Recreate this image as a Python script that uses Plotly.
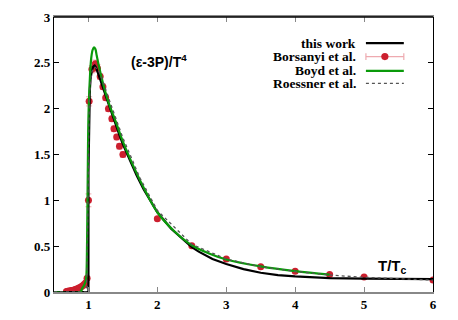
import plotly.graph_objects as go

# ---- data ----
this_work_x = [0.5, 0.7, 0.9, 0.99, 1.0, 1.0, 1.005, 1.01, 1.02, 1.03, 1.05, 1.07, 1.09, 1.11, 1.14, 1.18,
               1.22, 1.26, 1.3, 1.35, 1.4, 1.45, 1.5, 1.6, 1.7, 1.8, 1.9, 2.0, 2.2, 2.4, 2.5, 2.6, 2.8,
               3.0, 3.25, 3.5, 3.75, 4.0, 4.5, 5.0, 5.5, 6.0]
this_work_y = [0, 0, 0, 0, 0, 1.3, 1.75, 2.0, 2.2, 2.32, 2.42, 2.46, 2.47, 2.45, 2.39, 2.3,
               2.21, 2.12, 2.03, 1.92, 1.81, 1.71, 1.61, 1.43, 1.27, 1.12, 0.99, 0.87, 0.69, 0.55, 0.49, 0.44, 0.36,
               0.305, 0.25, 0.21, 0.185, 0.17, 0.152, 0.145, 0.141, 0.14]

boyd_x = [0.5, 0.88, 0.91, 0.94, 0.96, 0.97, 0.98, 0.99, 1.0, 1.02, 1.04, 1.06, 1.08, 1.1, 1.12, 1.15,
          1.2, 1.25, 1.3, 1.4, 1.5, 1.6, 1.8, 2.0, 2.25, 2.5, 2.75, 3.0, 3.5, 4.0, 4.5]
boyd_y = [0, 0, 0.04, 0.08, 0.12, 0.18, 0.55, 1.3, 1.9, 2.32, 2.55, 2.64, 2.67, 2.65, 2.58, 2.47,
          2.31, 2.17, 2.05, 1.85, 1.64, 1.46, 1.14, 0.87, 0.66, 0.51, 0.42, 0.355, 0.28, 0.228, 0.19]

roessner_x = [0.5, 0.97, 0.98, 0.99, 1.0, 1.01, 1.03, 1.05, 1.08, 1.1, 1.15, 1.2, 1.3, 1.4, 1.5, 1.75,
              2.0, 2.5, 3.0, 3.5, 4.0, 4.5, 5.0, 5.5, 6.0]
roessner_y = [0, 0, 0.3, 1.0, 1.7, 2.05, 2.3, 2.4, 2.45, 2.45, 2.41, 2.32, 2.1, 1.88, 1.68, 1.24,
              0.89, 0.52, 0.36, 0.275, 0.225, 0.185, 0.16, 0.145, 0.13]

borsanyi_x = [0.68, 0.70, 0.72, 0.74, 0.76, 0.78, 0.80, 0.82, 0.84, 0.86, 0.88, 0.90, 0.92, 0.94, 0.96, 0.98,
              1.0, 1.01, 1.05, 1.10, 1.13, 1.17, 1.21, 1.25, 1.29, 1.34, 1.37, 1.41, 1.45, 1.50,
              2.0, 2.5, 3.0, 3.5, 4.0, 4.5, 5.0, 6.0]
borsanyi_y = [0.005, 0.008, 0.01, 0.013, 0.016, 0.02, 0.025, 0.03, 0.036, 0.043, 0.05, 0.06, 0.07, 0.085, 0.1, 0.15,
              1.0, 2.08, 2.43, 2.49, 2.44, 2.35, 2.24, 2.12, 2.0, 1.89, 1.78, 1.69, 1.59, 1.50,
              0.80, 0.505, 0.36, 0.276, 0.226, 0.19, 0.164, 0.131]
borsanyi_err = [0.003, 0.003, 0.003, 0.003, 0.004, 0.004, 0.004, 0.005, 0.005, 0.005, 0.006, 0.006, 0.007, 0.008, 0.01, 0.02,
                0.07, 0.05, 0.04, 0.04, 0.04, 0.03, 0.03, 0.03, 0.03, 0.03, 0.03, 0.03, 0.03, 0.03,
                0.02, 0.015, 0.012, 0.01, 0.01, 0.01, 0.01, 0.01]

x_ticks = [1, 2, 3, 4, 5, 6]
y_ticks = [0, 0.5, 1, 1.5, 2, 2.5, 3]
y_ticklabels = ["0", "0.5", "1", "1.5", "2", "2.5", "3"]

legend_labels = ["this work", "Borsanyi et al.", "Boyd et al.", "Roessner et al."]

BLACK = "#000000"
GREEN = "#0a9a0a"
RED = "#cc1f2e"
PINK = "#eeaab0"
SERIF = "Liberation Serif"
SANS = "Liberation Sans"

fig = go.Figure()

fig.add_trace(go.Scatter(x=borsanyi_x, y=borsanyi_y, mode="markers",
                         marker=dict(color=RED, size=7),
                         error_y=dict(type="data", array=borsanyi_err, color=PINK, thickness=1, width=3),
                         showlegend=False))
fig.add_trace(go.Scatter(x=this_work_x, y=this_work_y, mode="lines",
                         line=dict(color=BLACK, width=2.2), showlegend=False))
fig.add_trace(go.Scatter(x=boyd_x, y=boyd_y, mode="lines", line_shape="spline",
                         line=dict(color=GREEN, width=2.2), showlegend=False))
fig.add_trace(go.Scatter(x=roessner_x, y=roessner_y, mode="lines",
                         line=dict(color="#555555", width=1.3, dash="dot"), showlegend=False))

# ---- custom legend (text left, sample right, like gnuplot) ----
legend_y = [0.905, 0.856, 0.804, 0.759]
x_text, x0, x1 = 0.802, 0.823, 0.923
shapes = []
annotations = []
for lab, yy in zip(legend_labels, legend_y):
    annotations.append(dict(text="<b>%s</b>" % lab, x=x_text, y=yy, xref="paper", yref="paper",
                            xanchor="right", yanchor="middle", showarrow=False,
                            font=dict(family=SERIF, size=13.5, color="black")))
shapes.append(dict(type="line", xref="paper", yref="paper", x0=x0, x1=x1, y0=legend_y[0], y1=legend_y[0],
                   line=dict(color=BLACK, width=2.2)))
shapes.append(dict(type="line", xref="paper", yref="paper", x0=x0, x1=x1, y0=legend_y[1], y1=legend_y[1],
                   line=dict(color=PINK, width=1.2)))
for xc in (x0, x1):
    shapes.append(dict(type="line", xref="paper", yref="paper", x0=xc, x1=xc,
                       y0=legend_y[1] - 0.012, y1=legend_y[1] + 0.012, line=dict(color=PINK, width=1.2)))
xm = (x0 + x1) / 2
shapes.append(dict(type="circle", xref="paper", yref="paper", x0=xm - 0.0095, x1=xm + 0.0095,
                   y0=legend_y[1] - 0.013, y1=legend_y[1] + 0.013, fillcolor=RED, line=dict(width=0)))
shapes.append(dict(type="line", xref="paper", yref="paper", x0=x0, x1=x1, y0=legend_y[2], y1=legend_y[2],
                   line=dict(color=GREEN, width=2.2)))
shapes.append(dict(type="line", xref="paper", yref="paper", x0=x0, x1=x1, y0=legend_y[3], y1=legend_y[3],
                   line=dict(color="#555555", width=1.3, dash="dot")))
# black top border over grey mirrored x axis line
shapes.append(dict(type="line", xref="paper", yref="paper", x0=0, x1=1, y0=1, y1=1,
                   line=dict(color=BLACK, width=1.3)))

annotations.append(dict(text="<b>(ε-3P)/T<sup>4</sup></b>", x=1.59, y=2.52, xref="x", yref="y",
                        xanchor="left", yanchor="middle", showarrow=False,
                        font=dict(family=SANS, size=14, color="black")))
annotations.append(dict(text="<b>T/T<sub>c</sub></b>", x=5.18, y=0.28, xref="x", yref="y",
                        xanchor="left", yanchor="middle", showarrow=False,
                        font=dict(family=SANS, size=15, color="black")))

# page body has an 8px margin: figure is 442x304, plot area lands at 54..433 x 17..292
fig.update_layout(
    width=442, height=304,
    margin=dict(l=46, r=17, t=9, b=20),
    paper_bgcolor="white", plot_bgcolor="white",
    shapes=shapes, annotations=annotations,
    showlegend=False,
    xaxis=dict(range=[0.5, 6], tickvals=x_ticks, ticktext=["<b>%d</b>" % v for v in x_ticks],
               automargin=False,
               showgrid=False, zeroline=False, showline=True, linecolor="#888888", linewidth=1.5,
               mirror="ticks", ticks="inside", ticklen=5, tickcolor="#888888",
               tickfont=dict(family=SERIF, size=13, color="black")),
    yaxis=dict(range=[0, 3], tickvals=y_ticks, ticktext=["<b>%s</b>" % t for t in y_ticklabels],
               automargin=False,
               showgrid=False, zeroline=False, showline=True, linecolor=BLACK, linewidth=1.3,
               mirror="ticks", ticks="inside", ticklen=5, tickcolor=BLACK,
               tickfont=dict(family=SERIF, size=13, color="black")),
)

fig.write_html("out.html")
